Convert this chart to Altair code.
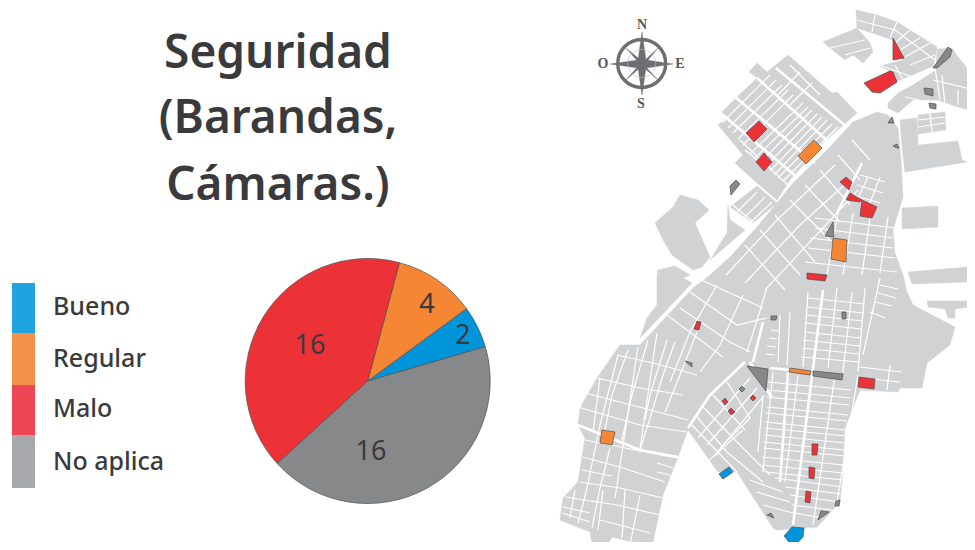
import math
import altair as alt
import pandas as pd

W, H = 959, 534
FONT = "Noto Sans"
INK = "#3a3a3c"

# ---- text and pie values -------------------------------------------------
title_lines = ["Seguridad", "(Barandas,", "Cámaras.)"]
categories = ["Bueno", "Regular", "Malo", "No aplica"]
counts = [2, 4, 16, 16]
# slice sweep in degrees
sweep = [19.9, 38.8, 147.4, 153.9]
pie_order = [2, 1, 4, 3]
pie_colors = ["#0095da", "#f58634", "#ed3237", "#87888a"]
key_colors = ["#21a3dd", "#f4924b", "#ef4655", "#a7a8ac"]
key_y = [283, 333, 385, 435, 488]
key_text_y = [307, 359, 409, 462]
pie_text_x = [463, 427, 310, 371]
pie_text_y = [336, 305, 346, 452]

# ---- map: land -----------------------------------------------------------
land = [
 [(856,10),(877,15),(897,22),(913,32),(937,47),(933,68),(913,77),(897,82),(880,93),(865,84),(890,71),(880,66),(903,60),(893,40),(857,28)],
 [(823,42),(857,28),(870,43),(873,52),(863,63),(853,55),(845,60)],
 [(937,49),(952,48),(958,57),(975,78),(975,107),(968,110),(937,100),(913,100),(898,113),(888,108),(888,103),(898,93),(913,85),(930,74),(936,70)],
 [(900,120),(917,118),(918,145),(958,141),(962,160),(967,162),(905,172),(902,147)],
 [(918,115),(945,112),(946,130),(918,134)],
 [(788,55),(832,93),(837,92),(857,113),(823,143),(790,180),(777,200),(757,183),(735,163),(743,155),(718,125),(727,117),(722,112),(737,97),(757,78),(749,72),(757,63),(767,72)],
 [(757,186),(777,203),(753,223),(730,207)],
 [(728,205),(730,220),(745,230),(710,260),(727,233)],
 [(655,223),(673,207),(680,195),(698,200),(709,210),(695,223),(710,257),(702,267),(693,270),(672,255),(663,240)],
 [(658,270),(675,266),(690,275),(683,278),(692,283),(640,338),(647,318),(657,305),(657,275)],
 [(902,208),(938,206),(938,227),(902,229)],
 [(908,272),(968,267),(968,282),(912,284)],
 [(927,301),(968,301),(968,307),(955,309),(955,318),(948,318),(945,309),(928,307)],
 [(877,112),(888,115),(898,128),(901,160),(903,197),(893,230),(895,253),(903,275),(907,292),(913,305),(955,327),(950,345),(927,363),(922,388),(900,388),(898,392),(860,390),(845,428),(842,482),(840,502),(817,527),(777,530),(773,528),(737,472),(718,472),(688,430),(678,457),(663,495),(652,547),(612,537),(605,549),(593,548),(590,532),(560,520),(563,498),(578,482),(585,438),(578,425),(580,408),(597,378),(620,345),(640,345),(693,288),(710,275),(730,257),(757,227),(777,203),(793,183),(827,150),(853,122)],
]

# ---- map: wide white avenues ---------------------------------------------
avenues = [
 [(897,83),(933,68)],
 [(823,290),(793,525)],
 [(745,362),(710,395),(688,428)],
 [(750,362),(772,398)],
 [(770,368),(790,370)],
 [(763,322),(753,362)],
 [(776,68),(847,127)],
 [(757,78),(830,143)],
 [(735,97),(815,163)],
 [(723,115),(798,178)],
 [(578,425),(640,450),(678,457)],
 [(862,163),(837,213)],
 [(788,372),(780,482)],
]

# ---- map: thin white streets ---------------------------------------------
streets = [
 # north-west grid
 [(722,123),(770,75)],[(728,128),(776,80)],[(733,133),(782,85)],[(738,139),(788,90)],[(743,145),(793,95)],
 [(751,153),(803,103)],[(755,158),(808,107)],[(760,163),(812,110)],[(765,167),(817,114)],[(770,171),(822,117)],
 [(774,175),(827,120)],[(778,178),(832,124)],[(783,181),(838,127)],[(745,150),(757,160)],[(740,140),(790,187)],
 [(790,65),(820,95)],[(800,72),(778,95)],[(812,83),(790,105)],[(737,212),(757,192)],[(744,218),(765,197)],
 [(750,223),(772,202)],[(733,205),(753,222)],
 # north peninsula
 [(857,20),(895,30),(935,60)],[(875,15),(872,32)],[(897,22),(890,38)],[(910,30),(895,43)],[(920,38),(900,50)],
 [(930,43),(905,57)],[(935,55),(910,65)],[(880,65),(912,77)],[(895,65),(903,80)],[(830,48),(865,40)],[(845,55),(870,48)],
 [(935,68),(940,100)],[(933,80),(975,90)],[(942,75),(945,105)],[(905,97),(955,108)],[(958,90),(958,105)],
 [(918,120),(945,117)],[(918,127),(945,123)],[(930,113),(932,132)],
 # centre, along the diagonal road
 [(726,275),(777,220),(835,165)],[(745,283),(800,225),(850,180)],[(765,290),(835,215),(858,190)],
 [(775,215),(815,262)],[(790,200),(830,240)],[(805,185),(840,222)],[(820,170),(850,205)],[(838,155),(860,180)],
 [(852,140),(870,160)],[(760,230),(800,275)],[(745,245),(785,290)],
 # centre-east grid
 [(860,175),(885,182)],[(857,185),(883,193)],[(853,195),(880,203)],[(868,177),(857,200)],[(880,177),(870,203)],
 [(838,213),(827,275)],[(853,213),(843,275)],[(870,217),(862,275)],[(888,217),(880,273)],
 [(815,218),(895,228)],[(815,228),(893,238)],[(810,238),(893,248)],[(808,248),(895,258)],[(805,262),(897,272)],
 [(880,278),(863,355)],[(880,285),(898,289)],[(878,293),(896,298)],[(875,302),(892,306)],[(870,312),(885,318)],
 # south-centre streets running north-south
 [(808,292),(803,367)],[(837,288),(828,368)],[(852,292),(843,372)],[(865,288),(858,372)],
 [(835,375),(813,525)],[(858,375),(837,502)],[(773,372),(763,472)],[(763,395),(758,452)],[(798,375),(785,482)],
 [(780,315),(778,362)],[(790,312),(787,365)],
 # south-centre rows
 [(808,298),(865,304)],[(807,307),(864,313)],[(806,315),(863,321)],[(805,323),(862,329)],[(804,332),(861,338)],
 [(803,340),(860,346)],[(802,348),(859,354)],[(801,357),(860,362)],
 [(771,330),(778,331)],[(769,338),(777,339)],[(767,346),(776,347)],[(766,354),(775,355)],
 [(768,382),(851,390)],[(768,390),(850,398)],[(767,397),(849,405)],[(767,407),(848,415)],[(766,413),(847,421)],
 [(765,422),(846,430)],[(765,428),(846,436)],[(764,435),(846,443)],[(763,442),(845,450)],[(763,448),(845,456)],
 [(762,457),(844,465)],[(762,465),(844,473)],[(766,472),(843,480)],[(775,478),(843,487)],[(785,487),(842,494)],
 [(790,495),(840,502)],[(792,505),(832,510)],[(795,513),(822,518)],
 [(860,367),(902,372)],[(862,378),(900,382)],[(890,365),(887,390)],
 # wedge
 [(750,378),(698,438)],[(757,388),(707,445)],[(763,397),(715,455)],[(750,418),(723,445),(717,455)],[(743,430),(707,462)],
 [(727,382),(750,418)],[(713,395),(745,430)],[(703,407),(737,442),(770,475)],[(697,417),(727,452),(763,482)],[(692,425),(737,472)],
 [(750,480),(783,492)],[(757,492),(790,502)],[(763,505),(793,513)],
 # between the diagonal and the wedge
 [(667,315),(723,357)],[(680,308),(730,342),(750,352)],[(690,292),(737,325),(767,318)],[(697,278),(763,308)],
 [(717,285),(690,332),(670,382)],[(743,295),(720,345),(700,372)],[(767,288),(747,352)],
 # west district
 [(638,347),(622,452),(615,498)],[(657,333),(640,448)],[(625,490),(622,538)],[(675,342),(663,375),(650,418),(640,450)],
 [(618,355),(600,425),(587,488),(578,523)],[(600,378),(593,432)],[(697,332),(680,375),(665,412)],
 [(610,448),(600,488),(592,528)],[(628,350),(612,395),(605,430)],[(648,340),(632,395),(622,440)],[(667,340),(650,395),(645,420)],
 [(640,495),(630,545)],[(603,490),(598,530)],[(575,490),(570,518)],
 [(597,378),(640,388),(683,395)],[(585,393),(643,408),(688,420)],[(578,407),(640,425),(687,432)],
 [(585,440),(620,447),(677,458)],[(583,457),(623,468),(665,482)],[(580,482),(620,488),(663,498)],
 [(565,497),(617,505),(660,515)],[(563,507),(590,513)],[(562,513),(590,522)],[(617,355),(653,363),(697,375)],
 [(582,470),(612,476)],[(600,520),(650,533)],[(657,463),(673,468)],[(657,472),(670,475)],
]

# ---- map: flagged sites --------------------------------------------------
sites_malo = [
 [(893,38),(904,58),(893,60)],[(864,83),(890,71),(893,72),(897,82),(880,93),(872,92)],
 [(759,121),(767,129),(754,142),(746,133)],[(764,153),(772,162),(764,171),(756,162)],
 [(846,177),(852,182),(849,190),(840,182)],[(850,193),(862,200),(860,202),(846,200)],
 [(862,200),(877,207),(872,218),(860,216)],[(807,273),(827,275),(825,281),(807,279)],
 [(697,321),(701,322),(699,330),(694,329)],[(859,377),(875,379),(874,389),(858,387)],
 [(725,398),(728,402),(725,405),(722,401)],[(753,395),(756,398),(753,401),(750,398)],
 [(731,408),(735,412),(731,415),(728,411)],[(812,444),(818,444),(817,455),(812,455)],
 [(809,467),(815,468),(814,479),(809,478)],[(806,491),(811,492),(810,503),(805,502)],
]
sites_regular = [
 [(814,140),(822,148),(806,164),(798,156)],[(833,238),(847,240),(846,262),(831,259)],
 [(790,368),(811,371),(810,375),(789,372)],[(602,430),(615,432),(612,445),(600,443)],
]
sites_bueno = [
 [(729,467),(733,472),(723,479),(719,474)],[(792,527),(804,528),(803,537),(793,547),(784,536)],
]
sites_na = [
 [(933,68),(948,47),(952,50),(950,57),(937,68)],[(924,88),(933,89),(933,96),(925,94)],
 [(929,103),(936,104),(936,109),(930,108)],[(888,123),(892,117),(894,123)],
 [(893,146),(897,144),(899,148),(897,148)],[(736,180),(740,184),(731,195),(730,186)],
 [(833,222),(834,237),(825,236)],[(771,316),(777,316),(776,320),(771,320)],
 [(842,312),(846,312),(846,319),(842,319)],[(685,361),(692,363),(692,367)],
 [(747,366),(768,369),(766,391)],[(813,371),(843,374),(842,380),(813,376)],
 [(742,386),(745,389),(742,392),(739,389)],[(836,501),(840,500),(839,506),(835,506)],
 [(821,511),(829,512),(818,520)],[(767,515),(771,513),(774,518)],
]

# ---- compass -------------------------------------------------------------
rose_long = [(642,32),(646,60),(673,64),(646,68),(642,95),(638,68),(610,64),(638,60)]
rose_diag = [(626,48),(643,62),(658,48),(644,65),(658,80),(642,66),(626,80),(640,64)]
rose_letters = ["N", "S", "O", "E"]
rose_x = [642, 641, 603, 680]
rose_y = [25, 104, 64, 64]


def polygon(points, **props):
    ring = [list(p) for p in points] + [list(points[0])]
    return {"type": "Feature", "properties": props,
            "geometry": {"type": "Polygon", "coordinates": [ring]}}


def path(points):
    return {"type": "Feature", "properties": {},
            "geometry": {"type": "LineString", "coordinates": [list(p) for p in points]}}


proj = dict(type="identity", scale=1, translate=[-8, -8])
xs = alt.Scale(domain=[8, 8 + W], range=[0, W], nice=False, zero=False)
ys = alt.Scale(domain=[8, 8 + H], range=[0, H], nice=False, zero=False)
X = lambda f: alt.X(f, scale=xs, axis=None)
Y = lambda f: alt.Y(f, scale=ys, axis=None)

land_layer = alt.Chart(alt.Data(values=[polygon(p) for p in land])).mark_geoshape(
    fill="#d1d2d4", stroke="#d1d2d4", strokeWidth=0.5).project(**proj)
street_layer = alt.Chart(alt.Data(values=[path(p) for p in streets])).mark_geoshape(
    filled=False, stroke="white", strokeWidth=1.2).project(**proj)
avenue_layer = alt.Chart(alt.Data(values=[path(p) for p in avenues])).mark_geoshape(
    filled=False, stroke="white", strokeWidth=2.6).project(**proj)


def sites(groups, fill):
    return alt.Chart(alt.Data(values=[polygon(p) for p in groups])).mark_geoshape(
        fill=fill, stroke="#4d4d4f", strokeWidth=0.7).project(**proj)


site_layers = [sites(sites_malo, "#ed3237"), sites(sites_regular, "#f58634"),
               sites(sites_bueno, "#0095da"), sites(sites_na, "#87888a")]

rose_layer = alt.Chart(alt.Data(values=[polygon(rose_diag), polygon(rose_long)])).mark_geoshape(
    fill="#6d6e71", stroke="#6d6e71", strokeWidth=0.4).project(**proj)
ring_df = pd.DataFrame({"x": [641.7], "y": [63.5]})
ring_layer = alt.Chart(ring_df).mark_point(shape="circle", filled=False, size=2300,
    stroke="#6d6e71", strokeWidth=3.4, opacity=1).encode(x=X("x:Q"), y=Y("y:Q"))
inner_ring = alt.Chart(ring_df).mark_point(shape="circle", filled=False, size=800,
    stroke="#bcbec0", strokeWidth=0.6, opacity=1).encode(x=X("x:Q"), y=Y("y:Q"))
letters_df = pd.DataFrame({"t": rose_letters, "x": rose_x, "y": rose_y})
letters_layer = alt.Chart(letters_df).mark_text(font="Liberation Serif", fontWeight="bold",
    fontSize=14, color="#58595b", baseline="middle").encode(x=X("x:Q"), y=Y("y:Q"), text="t:N")

pie_df = pd.DataFrame({"cat": categories, "sweep": sweep, "ord": pie_order, "cx": 367.7, "cy": 381})
a0 = math.radians(15)
pie_layer = alt.Chart(pie_df).mark_arc(radius=122.5, stroke="#4d4d4f", strokeWidth=0.7).encode(
    theta=alt.Theta("sweep:Q", stack=True, scale=alt.Scale(domain=[0, 360], range=[a0, a0 + 2 * math.pi])),
    order=alt.Order("ord:Q"),
    color=alt.Color("cat:N", scale=alt.Scale(domain=categories, range=pie_colors), legend=None),
    x=X("cx:Q"), y=Y("cy:Q"))
pie_text = alt.Chart(pd.DataFrame({"t": counts, "x": pie_text_x, "y": pie_text_y})).mark_text(
    font=FONT, fontSize=27, color=INK, baseline="middle").encode(x=X("x:Q"), y=Y("y:Q"), text="t:Q")

key_df = pd.DataFrame({"cat": categories, "x": 12, "x2": 35, "y": key_y[:-1], "y2": key_y[1:], "c": key_colors})
key_rects = alt.Chart(key_df).mark_rect().encode(
    x=X("x:Q"), x2="x2:Q", y=Y("y:Q"), y2="y2:Q", fill=alt.Fill("c:N", scale=None))
key_text = alt.Chart(pd.DataFrame({"t": categories, "x": 53, "y": key_text_y})).mark_text(
    font=FONT, fontSize=25, fontWeight=500, color=INK, align="left", baseline="middle").encode(
    x=X("x:Q"), y=Y("y:Q"), text="t:N")

title_df = pd.DataFrame({"t": title_lines, "x": 278, "y": [54, 119, 186]})
title_layer = alt.Chart(title_df).mark_text(font=FONT, fontSize=46, fontWeight=600, color=INK,
    baseline="middle").encode(x=X("x:Q"), y=Y("y:Q"), text="t:N")

chart = alt.layer(land_layer, street_layer, avenue_layer, *site_layers, rose_layer, inner_ring, ring_layer,
                  letters_layer, pie_layer, pie_text, key_rects, key_text, title_layer).properties(
    width=W, height=H, padding=0, autosize=alt.AutoSizeParams(type="none")
).configure_view(stroke=None).resolve_scale(color="independent")

chart.save("out.html", embed_options={"renderer": "svg", "actions": False})
